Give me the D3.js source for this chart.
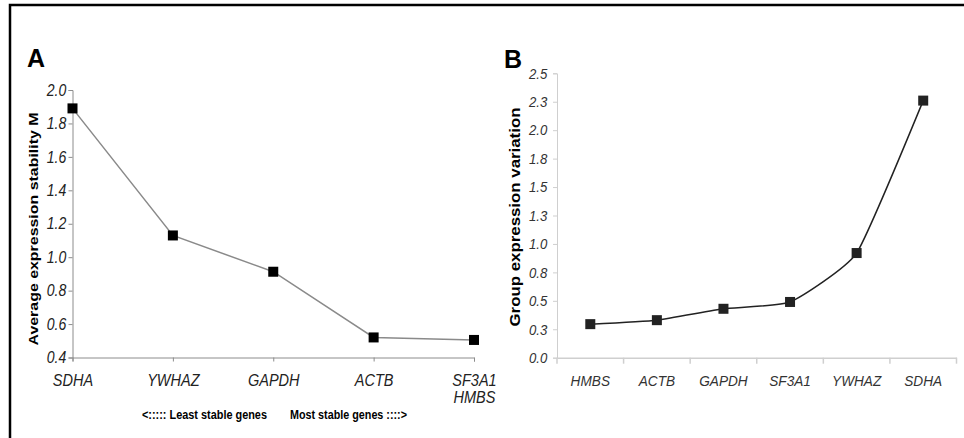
<!DOCTYPE html>
<html>
<head>
  <script src="https://d3js.org/d3.v7.min.js"></script>
  <style>
    body { margin: 0; background: #fff; }
    text { font-family: "Liberation Sans", Arial, sans-serif; }
  </style>
</head>
<body>
  <script>
    // panel A: geNorm stability M
    const genesA = ["SDHA", "YWHAZ", "GAPDH", "ACTB", "SF3A1 HMBS"];
    const valuesA = [1.89, 1.13, 0.913, 0.52, 0.505];
    const ticksA = [0.4, 0.6, 0.8, 1.0, 1.2, 1.4, 1.6, 1.8, 2.0];

    // panel B: group expression variation
    const genesB = ["HMBS", "ACTB", "GAPDH", "SF3A1", "YWHAZ", "SDHA"];
    const valuesB = [0.295, 0.33, 0.43, 0.49, 0.92, 2.26];
    const ticksB = [0, 0.25, 0.5, 0.75, 1.0, 1.25, 1.5, 1.75, 2.0, 2.25, 2.5];
    const tickLabelsB = ["0.0", "0.3", "0.5", "0.8", "1.0", "1.3", "1.5", "1.8", "2.0", "2.3", "2.5"];

    const width = 964;
    const height = 438;

    const svg = d3.select("body")
      .append("svg")
      .attr("width", width)
      .attr("height", height);

    // frame (top + left only, the rest is cropped off)
    svg.append("path")
      .attr("d", "M10,438 V5 H964")
      .attr("fill", "none")
      .attr("stroke", "#000")
      .attr("stroke-width", 2.5);

    // narrow italic look of the original labels
    function narrow(sel, size) {
      sel.attr("font-size", size)
        .attr("font-style", "italic")
        .attr("transform", "scale(0.88,1)");
    }

    // ---------- panel A ----------
    const xA = d3.scalePoint().domain(genesA).range([72.5, 474]);
    const yA = d3.scaleLinear().domain([0.4, 2.0]).range([357.5, 90]);

    const gA = svg.append("g");

    const axYA = gA.append("g")
      .attr("transform", "translate(72.5,0)")
      .call(d3.axisLeft(yA).tickValues(ticksA).tickFormat(d3.format(".1f")).tickSize(4).tickPadding(3));
    const axXA = gA.append("g")
      .attr("transform", "translate(0,357.5)")
      .call(d3.axisBottom(xA).tickSize(4).tickPadding(8).tickFormat(""));

    [axYA, axXA].forEach(a => {
      a.select(".domain").attr("stroke", "#8c8c8c");
      a.selectAll(".tick line").attr("stroke", "#8c8c8c");
    });
    axYA.selectAll(".tick text").call(narrow, 16).attr("fill", "#222");

    // category labels, two-line for the tied pair
    axXA.selectAll(".tick").each(function (d) {
      const lines = d.split(" ");
      const t = d3.select(this).append("text")
        .attr("text-anchor", "middle")
        .attr("fill", "#222")
        .attr("y", 29)
        .call(narrow, 16.5);
      lines.forEach((l, i) => t.append("tspan").attr("x", 0).attr("dy", i ? 17 : 0).text(l));
    });

    const lineA = d3.line().x((d, i) => xA(genesA[i])).y(d => yA(d));
    gA.append("path")
      .datum(valuesA)
      .attr("d", lineA)
      .attr("fill", "none")
      .attr("stroke", "#8a8a8a")
      .attr("stroke-width", 1.5);

    gA.selectAll("rect.pt")
      .data(valuesA)
      .join("rect")
      .attr("class", "pt")
      .attr("x", (d, i) => xA(genesA[i]) - 5)
      .attr("y", d => yA(d) - 5)
      .attr("width", 10)
      .attr("height", 10)
      .attr("fill", "#000");

    gA.append("text")
      .attr("transform", "translate(38,229) rotate(-90)")
      .attr("text-anchor", "middle")
      .attr("font-size", 13.5)
      .attr("font-weight", "bold")
      .attr("textLength", 233)
      .attr("lengthAdjust", "spacingAndGlyphs")
      .text("Average expression stability M");

    gA.append("text")
      .attr("x", 27).attr("y", 67)
      .attr("font-size", 25).attr("font-weight", "bold")
      .text("A");

    gA.append("text")
      .attr("x", 142).attr("y", 419)
      .attr("font-size", 12.5).attr("font-weight", "bold")
      .attr("textLength", 125).attr("lengthAdjust", "spacingAndGlyphs")
      .text("<::::: Least stable genes");
    gA.append("text")
      .attr("x", 290).attr("y", 419)
      .attr("font-size", 12.5).attr("font-weight", "bold")
      .attr("textLength", 117).attr("lengthAdjust", "spacingAndGlyphs")
      .text("Most stable genes ::::>");

    // ---------- panel B ----------
    const xB = d3.scaleBand().domain(genesB).range([557, 956.5]).padding(0);
    const yB = d3.scaleLinear().domain([0, 2.5]).range([357.7, 73.3]);

    const gB = svg.append("g");

    const axYB = gB.append("g")
      .attr("transform", "translate(557,0)")
      .call(d3.axisLeft(yB).tickValues(ticksB).tickFormat((d, i) => tickLabelsB[i]).tickSize(4).tickPadding(7));
    axYB.select(".domain").attr("stroke", "#cfcfcf");
    axYB.selectAll(".tick line").attr("stroke", "#cfcfcf");
    axYB.selectAll(".tick text").call(narrow, 15).attr("fill", "#333");

    const axXB = gB.append("g")
      .attr("transform", "translate(0,357.7)")
      .call(d3.axisBottom(xB).tickSize(0).tickPadding(17));
    axXB.select(".domain").attr("stroke", "#cfcfcf").attr("stroke-width", 1.5);
    axXB.selectAll(".tick text").call(narrow, 15.5).attr("fill", "#333");
    // boundary ticks between categories
    axXB.selectAll("line.sep")
      .data(d3.range(genesB.length + 1))
      .join("line")
      .attr("class", "sep")
      .attr("x1", i => xB.range()[0] + i * xB.step())
      .attr("x2", i => xB.range()[0] + i * xB.step())
      .attr("y1", 0).attr("y2", 6)
      .attr("stroke", "#cfcfcf")
      .attr("stroke-width", 1.5);

    const lineB = d3.line()
      .curve(d3.curveCardinal.tension(0.55))
      .x((d, i) => xB(genesB[i]) + xB.bandwidth() / 2)
      .y(d => yB(d));
    gB.append("path")
      .datum(valuesB)
      .attr("d", lineB)
      .attr("fill", "none")
      .attr("stroke", "#222")
      .attr("stroke-width", 1.5);

    gB.selectAll("rect.pt")
      .data(valuesB)
      .join("rect")
      .attr("class", "pt")
      .attr("x", (d, i) => xB(genesB[i]) + xB.bandwidth() / 2 - 5)
      .attr("y", d => yB(d) - 5)
      .attr("width", 10)
      .attr("height", 10)
      .attr("fill", "#222");

    gB.append("text")
      .attr("transform", "translate(520,217) rotate(-90)")
      .attr("text-anchor", "middle")
      .attr("font-size", 14)
      .attr("font-weight", "bold")
      .attr("textLength", 219)
      .attr("lengthAdjust", "spacingAndGlyphs")
      .text("Group expression variation");

    gB.append("text")
      .attr("x", 504).attr("y", 68)
      .attr("font-size", 25).attr("font-weight", "bold")
      .text("B");
  </script>
</body>
</html>
